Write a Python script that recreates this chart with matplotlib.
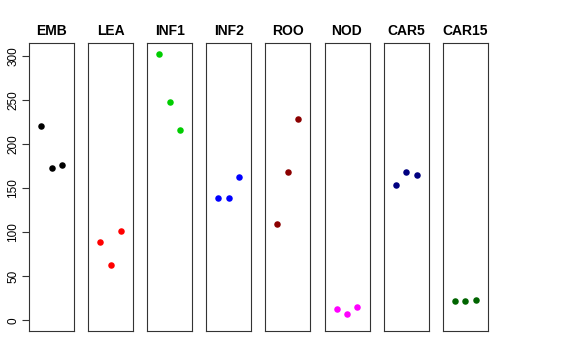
import matplotlib
matplotlib.use('Agg')
import matplotlib.pyplot as plt

plt.rcParams['font.family'] = ['Liberation Sans', 'DejaVu Sans']

# ---------------- data ----------------
tissues = ['EMB', 'LEA', 'INF1', 'INF2', 'ROO', 'NOD', 'CAR5', 'CAR15']
colors = ['black', 'red', '#00CD00', 'blue', '#8B0000', 'magenta', '#000080', '#006400']
reps = [1, 2, 3]
values = {
    'EMB':   [221, 173, 177],
    'LEA':   [88.5, 62.5, 101.5],
    'INF1':  [303, 248, 216],
    'INF2':  [138.5, 138.5, 162.5],
    'ROO':   [110, 169, 228.5],
    'NOD':   [12.5, 7, 15.5],
    'CAR5':  [153.5, 169, 165],
    'CAR15': [22.3, 22.3, 23.4],
}
yticks = [0, 50, 100, 150, 200, 250, 300]

# ---------------- layout (pixels) ----------------
W, H = 576, 360
fig = plt.figure(figsize=(W / 100, H / 100), dpi=100)
x0, pw, step = 29, 45, 59.1
top, bottom = 43, 331

for i, (name, col) in enumerate(zip(tissues, colors)):
    ax = fig.add_axes([(x0 + i * step) / W, (H - bottom) / H, pw / W, (bottom - top) / H])
    ax.scatter(reps, values[name], s=22, color=col, linewidths=0, zorder=3)
    ax.set_xlim(-0.16, 4.16)
    ax.set_ylim(-12, 315)
    ax.set_xticks([])
    ax.set_title(name, fontsize=10, fontweight='bold', pad=6)
    for sp in ax.spines.values():
        sp.set_linewidth(0.8)
        sp.set_color('#333333')
    if i == 0:
        ax.set_yticks(yticks)
        ax.set_yticklabels([str(t) for t in yticks], rotation=90, va='center', fontsize=8.5)
        ax.tick_params(axis='y', length=5, width=0.8, pad=2, color='#333333')
    else:
        ax.set_yticks([])

fig.savefig('out.png', dpi=100)
